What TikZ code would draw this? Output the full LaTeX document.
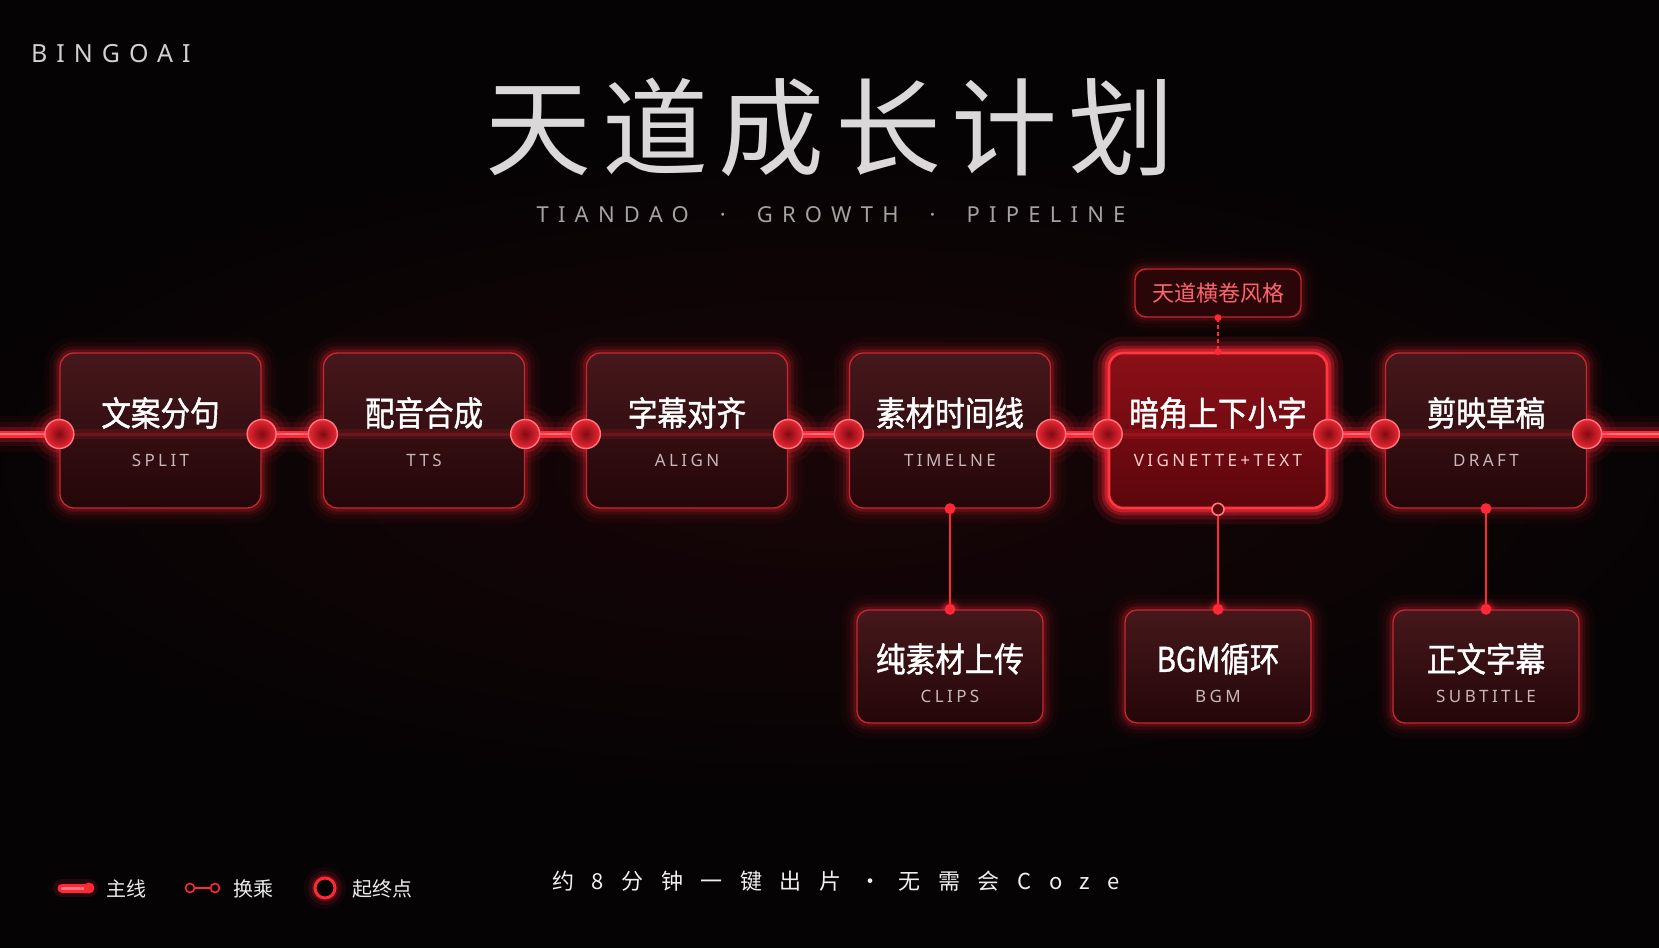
\documentclass[tikz,border=0pt]{standalone}
\usepackage{fontspec}
\setmainfont{Noto Sans}
\newfontfamily\cjk{Noto Sans CJK SC}
\newfontfamily\cjkbox[FakeStretch=0.87,FakeBold=1.2]{Noto Sans CJK SC}
\usetikzlibrary{calc}
\pgfdeclarelayer{bg}
\pgfdeclarelayer{glow}
\pgfsetlayers{bg,glow,main}
\definecolor{bgc}{RGB}{5,3,4}
\definecolor{haze}{RGB}{24,5,7}
\definecolor{neon}{RGB}{255,40,55}
\definecolor{neonl}{RGB}{255,120,128}
\definecolor{edge}{RGB}{200,40,50}
\definecolor{boxtop}{RGB}{70,24,27}
\definecolor{boxbot}{RGB}{36,6,9}
\definecolor{hitop}{RGB}{140,16,24}
\definecolor{hibot}{RGB}{92,6,12}
\definecolor{hiedge}{RGB}{255,55,65}
\definecolor{subc}{RGB}{200,182,184}
\definecolor{titlec}{RGB}{218,216,216}
\definecolor{subtc}{RGB}{165,162,162}
\definecolor{tagc}{RGB}{255,100,110}
\definecolor{tagfill}{RGB}{42,6,9}
\definecolor{portin}{RGB}{130,10,18}
\definecolor{portout}{RGB}{235,40,52}
\newcommand\boxglow[3]{%
  \begin{pgfonlayer}{glow}
    \foreach \lw/\op in {30/0.035,20/0.06,12/0.1,6/0.18}{
      \pgfmathsetmacro\oo{min(1,\op*#3)}
      \draw[neon, line width=\lw pt, opacity=\oo, rounded corners=#2] (#1.south west) rectangle (#1.north east);
    }
  \end{pgfonlayer}}
\newcommand\dotglow[2]{%
  \begin{pgfonlayer}{glow}
    \foreach \rf/\op in {2.1/0.06,1.7/0.1,1.35/0.2}{
      \pgfmathsetmacro\rr{\rf*#2}
      \fill[neon, opacity=\op] (#1) circle (\rr pt);
    }
  \end{pgfonlayer}}
\begin{document}
\begin{tikzpicture}[x=1pt,y=-1pt,
  stage/.style={rectangle, rounded corners=14pt, minimum width=201pt, minimum height=155pt, draw=edge, line width=1.3pt, top color=boxtop, bottom color=boxbot, inner sep=0pt},
  stagehi/.style={stage, minimum width=218pt, draw=hiedge, line width=2.6pt, top color=hitop, bottom color=hibot},
  leaf/.style={stage, rounded corners=12pt, minimum width=186pt, minimum height=113pt},
  tagbox/.style={rectangle, rounded corners=11pt, minimum width=166pt, minimum height=48pt, draw=edge, line width=1.4pt, fill=tagfill, text=tagc, font=\cjk\fontsize{22}{24}\selectfont, inner sep=0pt},
  port/.style={circle, minimum size=29pt, inner sep=0pt, inner color=portin, outer color=portout, draw=neonl, line width=1.4pt},
  ttl/.style={text=white, font=\cjkbox\fontsize{34}{36}\selectfont, inner sep=0pt},
  sbl/.style={text=subc, font=\fontsize{17}{18}\selectfont\addfontfeature{LetterSpace=20}, inner sep=0pt},
  lgt/.style={text=white!92!black, font=\cjk\fontsize{20}{22}\selectfont, inner sep=0pt, anchor=west},
  link/.style={neon, line width=1.5pt},
]
\useasboundingbox (0,0) rectangle (1659,948);
\begin{pgfonlayer}{bg}
  \fill[bgc] (0,0) rectangle (1659,948);
  \shade[inner color=haze, outer color=bgc] (830,470) ellipse (950pt and 340pt);
\end{pgfonlayer}

% main line
\coordinate (Ls) at (0,434);
\coordinate (Le) at (1659,434);
\begin{pgfonlayer}{glow}
  \foreach \lw/\op in {36/0.05,24/0.09,15/0.22}{
    \draw[neon, line width=\lw pt, opacity=\op] (Ls) -- (Le);
  }
  \draw[neon, line width=7pt] (Ls) -- (Le);
  \draw[neonl, line width=2.5pt] (Ls) -- (Le);
\end{pgfonlayer}

% stage boxes
\node[stage] (b1) at (160.5,430.5) {};
\node[stage] (b2) at (424,430.5) {};
\node[stage] (b3) at (687,430.5) {};
\node[stage] (b4) at (950,430.5) {};
\node[stagehi] (b5) at (1218,430.5) {};
\node[stage] (b6) at (1486,430.5) {};
\foreach \b in {b1,b2,b3,b4,b6}{\boxglow{\b}{14pt}{1}}
\boxglow{b5}{15pt}{3}

% faint line through boxes
\foreach \b in {b1,b2,b3,b4,b5,b6}{
  \draw[neon, line width=10pt, opacity=0.12] (\b.west |- Ls) -- (\b.east |- Ls);
  \draw[neon, line width=3pt, opacity=0.18] (\b.west |- Ls) -- (\b.east |- Ls);
}

% ports
\foreach \b in {b1,b2,b3,b4,b5,b6}{
  \node[port] (\b l) at (\b.west |- Ls) {};
  \node[port] (\b r) at (\b.east |- Ls) {};
  \dotglow{\b l}{14}
  \dotglow{\b r}{14}
}

% texts in stage boxes
\node[ttl] (b1t) at ($(b1.center)+(0,-17.5)$) {文案分句};
\node[sbl] (b1s) at ($(b1.center)+(0,29.5)$) {SPLIT};
\node[ttl] (b2t) at ($(b2.center)+(0,-17.5)$) {配音合成};
\node[sbl] (b2s) at ($(b2.center)+(0,29.5)$) {TTS};
\node[ttl] (b3t) at ($(b3.center)+(0,-17.5)$) {字幕对齐};
\node[sbl] (b3s) at ($(b3.center)+(0,29.5)$) {ALIGN};
\node[ttl] (b4t) at ($(b4.center)+(0,-17.5)$) {素材时间线};
\node[sbl] (b4s) at ($(b4.center)+(0,29.5)$) {TIMELNE};
\node[ttl] (b5t) at ($(b5.center)+(0,-17.5)$) {暗角上下小字};
\node[sbl, text=white!80!red] (b5s) at ($(b5.center)+(0,29.5)$) {VIGNETTE+TEXT};
\node[ttl] (b6t) at ($(b6.center)+(0,-17.5)$) {剪映草稿};
\node[sbl] (b6s) at ($(b6.center)+(0,29.5)$) {DRAFT};

% tag
\node[tagbox] (tag) at (1218,293) {天道横卷风格};
\boxglow{tag}{11pt}{0.6}
\draw[neon, line width=1.8pt, dash pattern=on 4pt off 3pt] (tag.south) -- (b5.north);
\fill[neon] (tag.south) circle (3.5pt);
\fill[neon] (b5.north) circle (3.5pt);

% leaf boxes
\node[leaf] (c1) at (950,666.5) {};
\node[leaf] (c2) at (1218,666.5) {};
\node[leaf] (c3) at (1486,666.5) {};
\foreach \b in {c1,c2,c3}{\boxglow{\b}{12pt}{0.9}}
\node[ttl] (c1t) at ($(c1.center)+(0,-7.5)$) {纯素材上传};
\node[sbl] (c1s) at ($(c1.center)+(0,29.5)$) {CLIPS};
\node[ttl] (c2t) at ($(c2.center)+(0,-7.5)$) {BGM循环};
\node[sbl] (c2s) at ($(c2.center)+(0,29.5)$) {BGM};
\node[ttl] (c3t) at ($(c3.center)+(0,-7.5)$) {正文字幕};
\node[sbl] (c3s) at ($(c3.center)+(0,29.5)$) {SUBTITLE};

% branch connectors
\draw[link] (b4.south) -- (c1.north);
\draw[link] (b5.south) -- (c2.north);
\draw[link] (b6.south) -- (c3.north);
\fill[neon] (b4.south) circle (5.5pt);
\fill[neon] (b6.south) circle (5.5pt);
\draw[neonl, line width=1.6pt, fill=hibot] (b5.south) circle (6pt);
\foreach \c in {c1,c2,c3}{
  \fill[neon] (\c.north) circle (5.5pt);
  \dotglow{\c.north}{5.5}
}

% heading
\node[anchor=west, inner sep=0pt, text=white!82!black, font=\fontsize{25}{26}\selectfont\addfontfeature{LetterSpace=36}] (brand) at (31,54) {BINGOAI};
\node[inner sep=0pt, text=titlec, font=\cjk\fontsize{106}{110}\selectfont\addfontfeature{LetterSpace=10}] (title) at (830,127) {天道成长计划};
\node[inner sep=0pt, text=subtc, font=\fontsize{22}{24}\selectfont\addfontfeature{LetterSpace=42}] (subtitle) at (831,215) {TIANDAO\hspace{31pt}·\hspace{31pt}GROWTH\hspace{31pt}·\hspace{31pt}PIPELINE};

% legend
\coordinate (lg1a) at (62,888);
\coordinate (lg1b) at (89,888);
\begin{pgfonlayer}{glow}
  \draw[neon, line width=18pt, line cap=round, opacity=0.12] (lg1a) -- (lg1b);
\end{pgfonlayer}
\draw[neon, line width=9pt, line cap=round] (lg1a) -- (lg1b);
\draw[neonl, line width=3pt, line cap=round] (lg1a) -- (lg1b);
\fill[neon] (lg1b) circle (5.5pt);
\node[lgt] (lg1t) at (106,889) {主线};
\coordinate (lg2a) at (190,888);
\coordinate (lg2b) at (215,888);
\draw[neon, line width=1.6pt] (lg2a) circle (4.5pt);
\draw[neon, line width=1.6pt] (lg2b) circle (4.5pt);
\draw[neon, line width=1.8pt, shorten <=4.5pt, shorten >=4.5pt] (lg2a) -- (lg2b);
\node[lgt] (lg2t) at (233,889) {换乘};
\coordinate (lg3) at (325,888);
\dotglow{lg3}{10}
\draw[neon, line width=3pt, fill=bgc] (lg3) circle (10pt);
\node[lgt] (lg3t) at (352,889) {起终点};

% footer
\node[inner sep=0pt, text=white!94!black, font=\cjk\fontsize{22}{24}\selectfont\addfontfeature{LetterSpace=80}] (foot) at (836,881) {约8分钟一键出片·无需会Coze};
\end{tikzpicture}
\end{document}
